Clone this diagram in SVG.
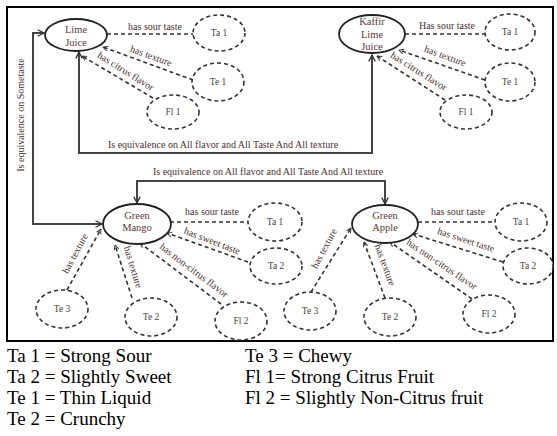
<svg xmlns="http://www.w3.org/2000/svg" width="557" height="436" viewBox="0 0 557 436">
<defs>
<marker id="arr" viewBox="0 0 10 10" refX="9" refY="5" markerWidth="8" markerHeight="8" markerUnits="userSpaceOnUse" orient="auto-start-reverse">
<path d="M1,1 L9,5 L1,9" fill="none" stroke="#333" stroke-width="1.6"/>
</marker>
<marker id="sarr" viewBox="0 0 10 10" refX="9" refY="5" markerWidth="6" markerHeight="6" markerUnits="userSpaceOnUse" orient="auto-start-reverse">
<path d="M1,1 L9,5 L1,9" fill="none" stroke="#333" stroke-width="1.6"/>
</marker>
</defs>
<style>
.main{fill:#fff;stroke:#222;stroke-width:1.8}
.val{fill:#fff;stroke:#333;stroke-width:1.6;stroke-dasharray:4 3}
.nt{font-family:"Liberation Serif",serif;font-size:10.5px;fill:#5a3838;text-anchor:middle}
.vt{font-family:"Liberation Serif",serif;font-size:9.5px;fill:#444;text-anchor:middle}
.el{fill:none;stroke:#333;stroke-width:1.6;stroke-dasharray:4 3}
.sl{fill:none;stroke:#444;stroke-width:2}
.lb{font-family:"Liberation Serif",serif;font-size:10px;fill:#4a3030;text-anchor:middle}
.lg{font-family:"Liberation Serif",serif;font-size:19px;fill:#000}
</style>
<rect x="7" y="7" width="546" height="334" fill="#fff" stroke="#000" stroke-width="2"/>
<g id="connectors">
<path class="sl" d="M44,33 H33 V224 H102" marker-start="url(#arr)" marker-end="url(#arr)"/>
<path class="sl" d="M79,52 V153 H372 V55" marker-start="url(#arr)" marker-end="url(#arr)"/>
<path class="sl" d="M137,203 V181 H385 V204" marker-start="url(#arr)" marker-end="url(#arr)"/>
<text class="lb" x="21" y="115" transform="rotate(-90 21 115)" dy="3">Is equivalence  on Sometaste</text>
<text class="lb" x="223" y="148">Is equivalence  on All flavor and All Taste And All texture</text>
<text class="lb" x="268" y="175">Is equivalence  on All flavor and All Taste And All texture</text>
<!-- Lime Juice -->
<path class="el" d="M107,34 H193"/>
<text class="lb" x="155" y="30">has  sour taste</text>
<path class="el" d="M193,80 L103,47" marker-end="url(#sarr)"/>
<text class="lb" x="150" y="59" transform="rotate(20 150 59)">has texture</text>
<path class="el" d="M153,98 L82,56" marker-end="url(#sarr)"/>
<text class="lb" x="124" y="74" transform="rotate(32 124 74)">has citrus flavor</text>
<!-- Kaffir -->
<path class="el" d="M405,34 H485"/>
<text class="lb" x="447" y="29">Has sour  taste</text>
<path class="el" d="M485,80 L399,50" marker-end="url(#sarr)"/>
<text class="lb" x="444" y="59" transform="rotate(20 444 59)">has texture</text>
<path class="el" d="M445,100 L377,56" marker-end="url(#sarr)"/>
<text class="lb" x="417" y="74" transform="rotate(32 417 74)">has  citrus flavor</text>
<!-- Green Mango -->
<path class="el" d="M170,222 H248"/>
<text class="lb" x="212" y="215">has  sour taste</text>
<path class="el" d="M248,262 L167,233" marker-end="url(#sarr)"/>
<text class="lb" x="211" y="244" transform="rotate(21 211 244)">has sweet  taste</text>
<path class="el" d="M221,304 L140,243" marker-end="url(#sarr)"/>
<text class="lb" x="192" y="273" transform="rotate(37 192 273)">has non-citrus flavor</text>
<path class="el" d="M132,298 L115,245" marker-end="url(#sarr)"/>
<text class="lb" x="130" y="268" transform="rotate(73 130 268)">has texture</text>
<path class="el" d="M67,290 L101,229" marker-end="url(#sarr)"/>
<text class="lb" x="78" y="255" transform="rotate(-62 78 255)">has texture</text>
<!-- Green Apple -->
<path class="el" d="M418,222 H495"/>
<text class="lb" x="458" y="215">has sour  taste</text>
<path class="el" d="M503,262 L413,234" marker-end="url(#sarr)"/>
<text class="lb" x="465" y="243" transform="rotate(18 465 243)">has sweet taste</text>
<path class="el" d="M472,299 L390,242" marker-end="url(#sarr)"/>
<text class="lb" x="440" y="267" transform="rotate(34 440 267)">has  non-citrus flavor</text>
<path class="el" d="M385,298 L364,242" marker-end="url(#sarr)"/>
<text class="lb" x="382" y="266" transform="rotate(70 382 266)">has texture</text>
<path class="el" d="M311,292 L351,228" marker-end="url(#sarr)"/>
<text class="lb" x="327" y="250" transform="rotate(-62 327 250)">has texture</text>
</g>
<g id="lime-juice"><ellipse class="main" cx="76" cy="35" rx="31" ry="16"/><text class="nt" x="76" y="33">Lime</text><text class="nt" x="76" y="46">Juice</text></g>
<g id="lime-ta1"><ellipse class="val" cx="219" cy="33" rx="26" ry="18"/><text class="vt" x="219" y="36">Ta 1</text></g>
<g id="lime-te1"><ellipse class="val" cx="218" cy="82" rx="26" ry="19"/><text class="vt" x="218" y="85">Te 1</text></g>
<g id="lime-fl1"><ellipse class="val" cx="173" cy="112" rx="26" ry="17"/><text class="vt" x="173" y="115">Fl 1</text></g>
<g id="kaffir-lime-juice"><ellipse class="main" cx="372" cy="34" rx="33" ry="19"/><text class="nt" x="372" y="25">Kaffir</text><text class="nt" x="372" y="37.5">Lime</text><text class="nt" x="372" y="50">Juice</text></g>
<g id="kaffir-ta1"><ellipse class="val" cx="510" cy="32" rx="25" ry="18"/><text class="vt" x="510" y="35">Ta 1</text></g>
<g id="kaffir-te1"><ellipse class="val" cx="510" cy="82" rx="25" ry="19"/><text class="vt" x="510" y="85">Te 1</text></g>
<g id="kaffir-fl1"><ellipse class="val" cx="466" cy="112" rx="26" ry="17"/><text class="vt" x="466" y="115">Fl 1</text></g>
<g id="green-mango"><ellipse class="main" cx="137" cy="224" rx="34" ry="20"/><text class="nt" x="137" y="219">Green</text><text class="nt" x="137" y="231">Mango</text></g>
<g id="mango-ta1"><ellipse class="val" cx="275" cy="222" rx="27" ry="19"/><text class="vt" x="275" y="225">Ta 1</text></g>
<g id="mango-ta2"><ellipse class="val" cx="276" cy="266" rx="26" ry="18"/><text class="vt" x="276" y="269">Ta 2</text></g>
<g id="mango-te3"><ellipse class="val" cx="62" cy="309" rx="26" ry="19"/><text class="vt" x="62" y="312">Te 3</text></g>
<g id="mango-te2"><ellipse class="val" cx="151" cy="317" rx="26" ry="19"/><text class="vt" x="151" y="320">Te 2</text></g>
<g id="mango-fl2"><ellipse class="val" cx="241" cy="321" rx="26" ry="19"/><text class="vt" x="241" y="324">Fl 2</text></g>
<g id="green-apple"><ellipse class="main" cx="385" cy="224" rx="33" ry="19"/><text class="nt" x="385" y="219">Green</text><text class="nt" x="385" y="231">Apple</text></g>
<g id="apple-ta1"><ellipse class="val" cx="521" cy="222" rx="26" ry="19"/><text class="vt" x="521" y="225">Ta 1</text></g>
<g id="apple-ta2"><ellipse class="val" cx="528" cy="266" rx="25" ry="18"/><text class="vt" x="528" y="269">Ta 2</text></g>
<g id="apple-te3"><ellipse class="val" cx="310" cy="311" rx="26" ry="19"/><text class="vt" x="310" y="314">Te 3</text></g>
<g id="apple-te2"><ellipse class="val" cx="390" cy="317" rx="26" ry="19"/><text class="vt" x="390" y="320">Te 2</text></g>
<g id="apple-fl2"><ellipse class="val" cx="489" cy="314" rx="26" ry="19"/><text class="vt" x="489" y="317">Fl 2</text></g>
<g id="legend">
<text class="lg" x="7" y="362">Ta 1 = Strong Sour</text>
<text class="lg" x="7" y="383">Ta 2 = Slightly Sweet</text>
<text class="lg" x="7" y="404">Te 1 = Thin Liquid</text>
<text class="lg" x="7" y="425">Te 2 = Crunchy</text>
<text class="lg" x="245" y="362">Te 3 = Chewy</text>
<text class="lg" x="245" y="383">Fl 1= Strong Citrus Fruit</text>
<text class="lg" x="245" y="404">Fl 2 = Slightly Non-Citrus fruit</text>
</g>
</svg>
